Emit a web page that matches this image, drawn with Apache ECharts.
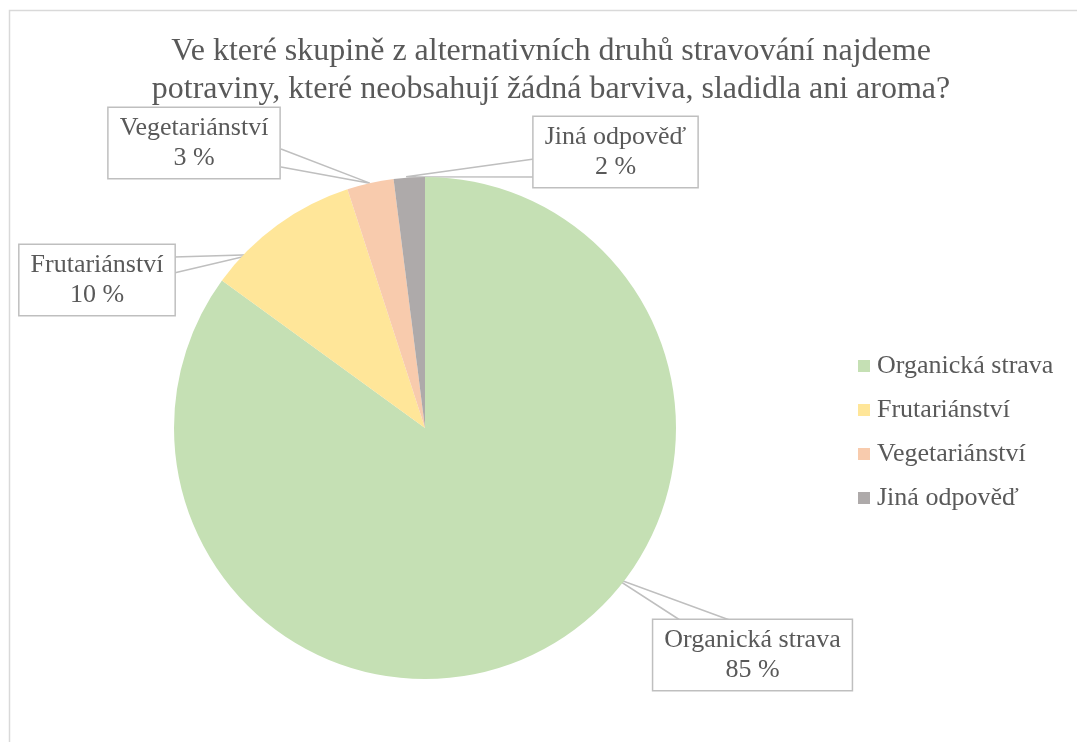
<!DOCTYPE html>
<html>
<head>
<meta charset="utf-8">
<script src="https://cdn.jsdelivr.net/npm/echarts@6/dist/echarts.min.js"></script>
<style>
	html, body { margin: 0; padding: 0; background: #fff; }
	#chart { width: 1077px; height: 742px; }
</style>
</head>
<body>
<div id="chart"></div>
<script>
	var kategorie = ['Organická strava', 'Frutariánství', 'Vegetariánství', 'Jiná odpověď'];
	var hodnoty = [85, 10, 3, 2]; // %
	var barvy = ['#C5E0B4', '#FFE699', '#F8CBAD', '#AEAAAA'];

	var stred = [425, 428];
	var polomer = 251;

	// popisky: stred boxu, uhel a vzdalenost spicky (od 12 h po smeru), dva body zakladny klinu vuci stredu boxu
	var popisky = [
		{ box: [752.5, 655], uhel: 128.3, r: 242, zakl: [[-69.5, -33], [-17.5, -33]] },
		{ box: [97, 280], uhel: 315, r: 245, zakl: [[77, -23], [77, -7]] },
		{ box: [194, 143], uhel: 347.3, r: 251, zakl: [[87, 6], [87, 24]] },
		{ box: [615.5, 152], uhel: 355.7, r: 252, zakl: [[-81.5, 7], [-81.5, 25]] }
	];

	var data = [];
	for(var i = 0; i < kategorie.length; i++) {
		data.push({ name: kategorie[i], value: hodnoty[i] });
	}

	var font = '"Liberation Serif", "Times New Roman", serif';
	var chart = echarts.init(document.getElementById('chart'));

	var option = {
		backgroundColor: '#fff',
		animation: false,
		color: barvy,
		title: {
			text: 'Ve které skupině z alternativních druhů stravování najdeme\npotraviny, které neobsahují žádná barviva, sladidla ani aroma?',
			left: 551,
			top: 33,
			padding: 0,
			textAlign: 'center',
			textStyle: {
				fontFamily: font,
				fontSize: 32,
				fontWeight: 'normal',
				color: '#595959',
				lineHeight: 38
			}
		},
		legend: {
			orient: 'vertical',
			left: 853,
			top: 348,
			itemWidth: 12,
			itemHeight: 12,
			itemGap: 18,
			icon: 'rect',
			data: kategorie,
			textStyle: {
				fontFamily: font,
				fontSize: 26,
				color: '#595959',
				padding: [0, 0, 0, 2]
			}
		},
		graphic: [{
			type: 'rect',
			shape: { x: 9.5, y: 10.5, width: 1200, height: 900 },
			style: { fill: 'none', stroke: '#d9d9d9', lineWidth: 1.5 },
			silent: true
		}],
		series: [{
			type: 'pie',
			center: stred,
			radius: polomer,
			startAngle: 90,
			clockwise: true,
			avoidLabelOverlap: false,
			data: data,
			label: {
				show: true,
				formatter: '{b}\n{c} %',
				fontFamily: font,
				fontSize: 26,
				lineHeight: 30,
				color: '#595959',
				backgroundColor: '#fff',
				borderColor: '#bfbfbf',
				borderWidth: 1.5,
				padding: [5, 11, 5, 11],
				align: 'center'
			},
			labelLine: {
				show: true,
				lineStyle: { color: '#bfbfbf', width: 1.5 }
			},
			labelLayout: function(p) {
				var l = popisky[p.dataIndex];
				var a = l.uhel * Math.PI / 180;
				var tip = [stred[0] + l.r * Math.sin(a), stred[1] - l.r * Math.cos(a)];
				var b1 = [l.box[0] + l.zakl[0][0], l.box[1] + l.zakl[0][1]];
				var b2 = [l.box[0] + l.zakl[1][0], l.box[1] + l.zakl[1][1]];
				return {
					x: l.box[0],
					y: l.box[1],
					align: 'center',
					verticalAlign: 'middle',
					labelLinePoints: [b1, tip, b2]
				};
			},
			itemStyle: { borderWidth: 0 }
		}]
	};

	chart.setOption(option);
</script>
</body>
</html>
